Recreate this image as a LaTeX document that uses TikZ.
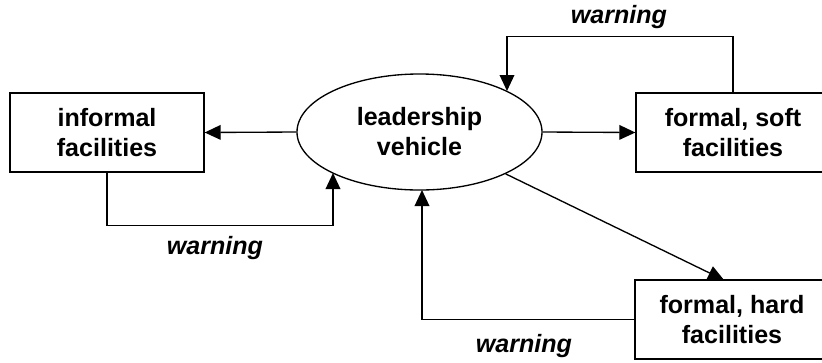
\documentclass[tikz,border=0pt]{standalone}
\usepackage{fontspec}
\setmainfont{Liberation Sans}
\usetikzlibrary{shapes.geometric, arrows.meta}
\tikzset{>={Triangle[length=12pt,width=11pt]}}

\begin{document}
\begin{tikzpicture}[x=0.75pt, y=-0.75pt, line width=1pt,
  every node/.style={font=\fontsize{18.8}{22.5}\selectfont\bfseries, align=center, inner sep=0pt},
  facility/.style={draw, minimum width=145.5pt, minimum height=59.25pt},
  oval/.style={draw, ellipse, minimum width=183.75pt, minimum height=87pt},
  warnlabel/.style={font=\fontsize{18.8}{22.5}\selectfont\bfseries\itshape}]
\useasboundingbox (0,0) rectangle (822,362);
\node[facility] (informal) at (107,132.5) {informal\\facilities};
\node[oval] (vehicle) at (419.5,132) {leadership\\vehicle};
\node[facility] (soft) at (733,132.5) {formal, soft\\facilities};
\node[facility] (hard) at (732,319.5) {formal, hard\\facilities};
\coordinate (softin) at (507,91);
\coordinate (informalin) at (333,173);
\coordinate (hardin) at (724,280);
\coordinate (hardret) at (422,190);
\draw[->] (vehicle.west) -- (informal.east);
\draw[->] (vehicle.east) -- (soft.west);
\draw[->] (vehicle) -- (hardin);
\draw[->] (soft.north) -- ++(0,-56) -| (softin);
\draw[->] (informal.south) -- ++(0,53) -| (informalin);
\draw[->] (hard.west) -| (hardret);
\node[warnlabel] (warnsoft) at (619,17) {warning};
\node[warnlabel] (warninformal) at (215,248) {warning};
\node[warnlabel] (warnhard) at (524,346) {warning};
\end{tikzpicture}
\end{document}
